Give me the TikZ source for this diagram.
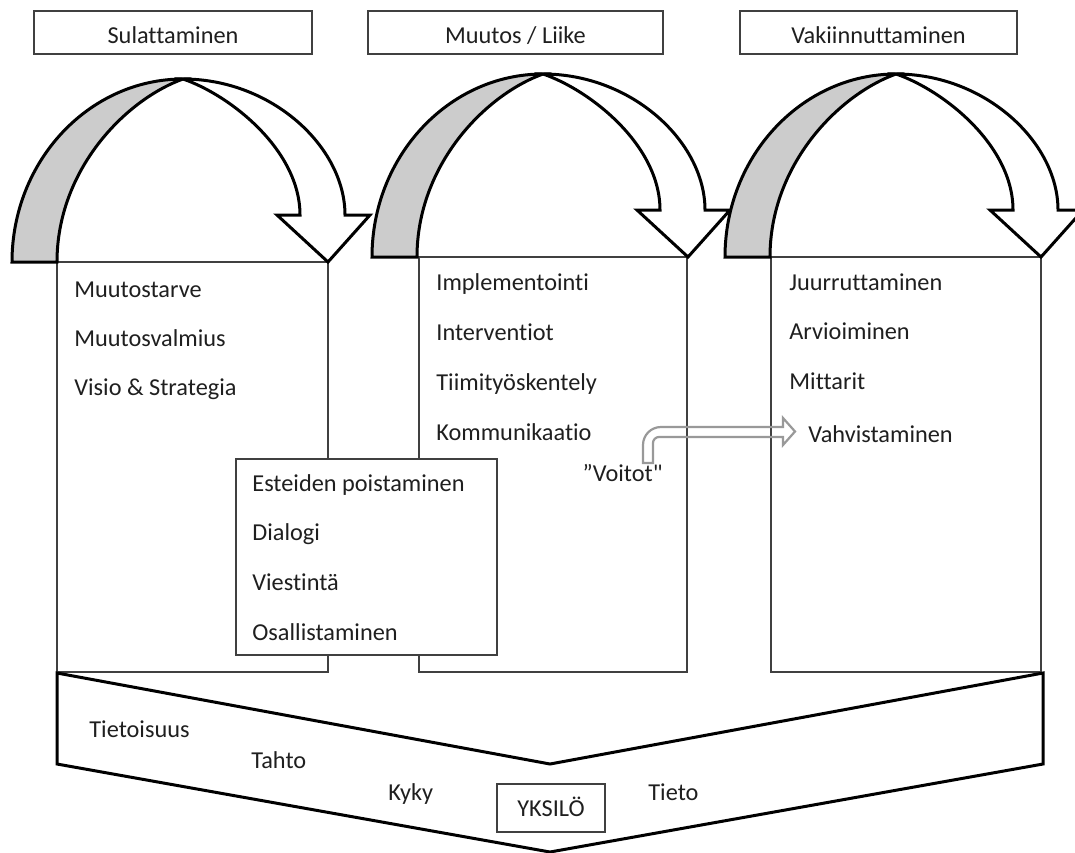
\documentclass[tikz,border=0pt]{standalone}
\usepackage{fontspec}
\setmainfont{Carlito}[Ligatures={TeXOff,CommonOff}]
\newcommand{\myarch}[2]{%
  \begin{scope}[shift={(#1,#2)}]
    \filldraw[thickln,fill=black!20] (12,262) .. controls (12,161) and (89,79) .. (183,79)
      .. controls (125,100) and (57,170) .. (57,262) -- cycle;
    \filldraw[thickln,fill=white] (183,79) .. controls (272,79) and (345,147) .. (345,215)
      -- (370,215) -- (328,262) -- (277,215) -- (300,215)
      .. controls (300,150) and (230,95) .. (183,79) -- cycle;
  \end{scope}}
\begin{document}
\begin{tikzpicture}[x=0.5pt,y=-0.5pt,
  boxln/.style={draw=black!75,line width=0.75pt},
  thickln/.style={draw=black,line width=1.5pt,line join=miter},
  txt/.style={font=\fontsize{12.15pt}{14.6pt}\selectfont,text=black!88,inner sep=0pt,anchor=base west},
  ctxt/.style={txt,anchor=base}]
\useasboundingbox (0,0) rectangle (1075,852);
\fill[white] (0,0) rectangle (1075,852);

% top headers
\draw[boxln] (34,11) rectangle (312,54);
\node[ctxt] (h1) at (173,43.5) {Sulattaminen};
\draw[boxln] (368,11) rectangle (663,54);
\node[ctxt] (h2) at (515.5,43.5) {Muutos / Liike};
\draw[boxln] (740,11) rectangle (1017,54);
\node[ctxt] (h3) at (878.5,43.5) {Vakiinnuttaminen};

% column boxes
\draw[boxln,fill=white] (57,262) rectangle (328,672);
\draw[boxln,fill=white] (419,257) rectangle (687,672);
\draw[boxln,fill=white] (771,257) rectangle (1041,672);

% arches
\myarch{0}{0}
\myarch{360}{-5}
\myarch{713}{-5}

% column texts
\node[txt] (c1a) at (74,297) {Muutostarve};
\node[txt] (c1b) at (74,346) {Muutosvalmius};
\node[txt] (c1c) at (74,395) {Visio \& Strategia};

\node[txt] (c2a) at (436,290) {Implementointi};
\node[txt] (c2b) at (436,340) {Interventiot};
\node[txt] (c2c) at (436,390) {Tiimityöskentely};
\node[txt] (c2d) at (436,440) {Kommunikaatio};
\node[txt,anchor=base east] (voit) at (663,481) {”Voitot"};

\node[txt] (c3a) at (789,290) {Juurruttaminen};
\node[txt] (c3b) at (789,339) {Arvioiminen};
\node[txt] (c3c) at (789,389) {Mittarit};
\node[txt] (c3d) at (808,442) {Vahvistaminen};

% bent arrow
\draw[draw=black!40,line width=1.1pt,line join=miter] (643,463) -- (643,445)
  .. controls (643,435) and (651,427) .. (661,427) -- (783,427) -- (783,418)
  -- (795,431.5) -- (783,445) -- (783,437) -- (659,437)
  .. controls (655.7,437) and (653,439.7) .. (653,443) -- (653,463) -- cycle;

% middle box
\draw[boxln,fill=white] (236,459) rectangle (497,655);
\node[txt] (m1) at (252,491) {Esteiden poistaminen};
\node[txt] (m2) at (252,540) {Dialogi};
\node[txt] (m3) at (252,590) {Viestintä};
\node[txt] (m4) at (252,640) {Osallistaminen};

% chevron
\draw[thickln,fill=white] (57,673) -- (550,764) -- (1043,673) -- (1043,764)
  -- (550,852) -- (57,764) -- cycle;
\node[txt] (b1) at (89,737) {Tietoisuus};
\node[txt] (b2) at (251,768) {Tahto};
\node[txt] (b3) at (388,800) {Kyky};
\node[txt] (b4) at (648,800) {Tieto};
\draw[boxln] (497,784) rectangle (605,832);
\node[ctxt] (yk) at (551,816) {YKSILÖ};
\end{tikzpicture}
\end{document}
